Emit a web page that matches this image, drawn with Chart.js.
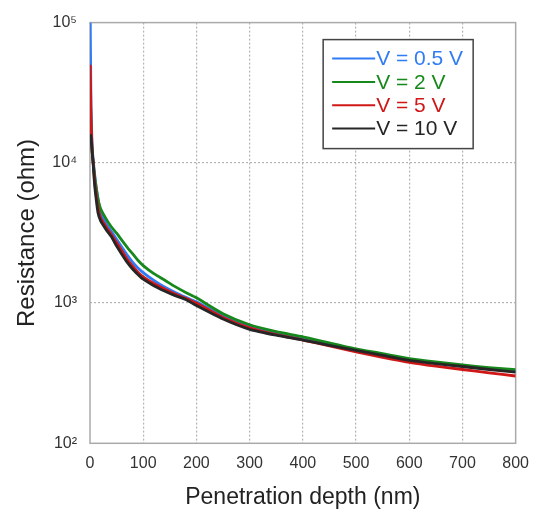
<!DOCTYPE html>
<html>
<head>
<meta charset="utf-8">
<script src="https://cdn.jsdelivr.net/npm/chart.js@4/dist/chart.umd.min.js"></script>
<style>
  html, body { margin: 0; padding: 0; background: #fff; }
  #wrap { width: 540px; height: 515px; }
</style>
</head>
<body>
<div id="wrap"><canvas id="chart"></canvas></div>
<script>
// penetration depth (nm)
const depth = [0.5, 2, 4, 6, 8, 10, 15, 20, 30, 40, 50, 60, 70, 80, 90, 100, 120, 140, 160, 180, 200, 250, 300, 350, 400, 450, 500, 550, 600, 650, 700, 750, 800];

// resistance (ohm) for each voltage
const r05 = [100000, 25000, 13000, 10500, 8800, 7500, 5600, 4500, 3700, 3250, 2850, 2500, 2200, 1960, 1780, 1650, 1450, 1300, 1190, 1100, 1020, 810, 680, 605, 555, 505, 463, 426, 393, 373, 355, 339, 326];
const r2 = [35000, 18000, 12000, 10000, 8500, 7300, 5500, 4700, 4000, 3500, 3150, 2800, 2500, 2250, 2020, 1850, 1620, 1460, 1310, 1190, 1090, 840, 700, 625, 575, 520, 472, 436, 402, 380, 362, 347, 335];
const r5 = [50000, 20000, 12500, 10000, 8000, 6700, 4800, 4050, 3500, 3100, 2700, 2350, 2050, 1830, 1660, 1540, 1380, 1260, 1160, 1080, 1000, 790, 665, 595, 545, 495, 448, 410, 378, 355, 336, 318, 302];
const r10 = [16000, 15000, 12000, 9800, 7500, 6200, 4400, 3850, 3350, 2980, 2550, 2220, 1950, 1750, 1600, 1480, 1330, 1220, 1130, 1060, 960, 770, 650, 590, 545, 500, 460, 423, 390, 370, 353, 336, 322];

const seriesNames = ["V = 0.5 V", "V = 2 V", "V = 5 V", "V = 10 V"];
const seriesColors = ["#2f7cf4", "#17891c", "#d01717", "#262626"];

const xTicks = [0, 100, 200, 300, 400, 500, 600, 700, 800];
const yTicks = [100, 1000, 10000, 100000];
const yTickLabels = ["10\u00b2", "10\u00b3", "10\u2074", "10\u2075"];

const font = "'Liberation Sans', Arial, sans-serif";

function points(vals) {
  return depth.map((d, i) => ({ x: d, y: vals[i] }));
}

function gridColor(ctx, lo, hi) {
  if (!ctx.tick) return "transparent";
  const v = ctx.tick.value;
  return (v === lo || v === hi) ? "transparent" : "#b4b4b4";
}

// frame round the plot area and the boxed legend
const framePlugin = {
  id: "frame",
  beforeDatasetsDraw(chart) {
    const { ctx, chartArea: a } = chart;
    ctx.save();
    ctx.strokeStyle = "#aaaaaa";
    ctx.lineWidth = 1.5;
    ctx.strokeRect(a.left, a.top, a.right - a.left, a.bottom - a.top);
    ctx.restore();
  },
  afterDraw(chart) {
    const { ctx, chartArea: a } = chart;
    const bx = a.right - 192.5, by = a.top + 17, bw = 150, bh = 109;
    ctx.save();
    ctx.fillStyle = "#fff";
    ctx.fillRect(bx, by, bw, bh);
    ctx.strokeStyle = "#444";
    ctx.lineWidth = 1.5;
    ctx.strokeRect(bx, by, bw, bh);
    ctx.font = "21px " + font;
    ctx.textBaseline = "middle";
    seriesNames.forEach((name, i) => {
      const y = by + 19 + i * 23.3;
      ctx.strokeStyle = seriesColors[i];
      ctx.lineWidth = 2;
      ctx.beginPath();
      ctx.moveTo(bx + 9, y);
      ctx.lineTo(bx + 52, y);
      ctx.stroke();
      ctx.fillStyle = seriesColors[i];
      ctx.fillText(name, bx + 53, y + 1);
    });
    ctx.restore();
  }
};

const allSeries = [r05, r2, r5, r10];
const drawOrder = [4, 3, 2, 1];

new Chart(document.getElementById("chart"), {
  type: "line",
  data: {
    datasets: allSeries.map((vals, i) => ({
      label: seriesNames[i],
      data: points(vals),
      borderColor: seriesColors[i],
      backgroundColor: seriesColors[i],
      borderWidth: 2.8,
      pointRadius: 0,
      tension: 0.2,
      order: drawOrder[i]
    }))
  },
  options: {
    responsive: true,
    maintainAspectRatio: false,
    animation: false,
    layout: { padding: { top: 15.5, right: 24.3, left: 0, bottom: 0 } },
    plugins: {
      legend: { display: false },
      tooltip: { enabled: false }
    },
    scales: {
      x: {
        type: "linear",
        min: 0,
        max: 800,
        afterBuildTicks: (s) => { s.ticks = xTicks.map((v) => ({ value: v })); },
        afterFit: (s) => { s.height = 71.7; },
        grid: {
          drawTicks: false,
          color: (c) => gridColor(c, 0, 800),
          lineWidth: 1.2
        },
        border: { display: false, dash: [2, 2] },
        ticks: {
          padding: 11,
          color: "#333",
          font: { family: font, size: 16 },
          maxRotation: 0
        },
        title: {
          display: true,
          text: "Penetration depth (nm)",
          color: "#222",
          font: { family: font, size: 23 },
          padding: { top: 0, bottom: 4 }
        }
      },
      y: {
        type: "logarithmic",
        min: 100,
        max: 100000,
        afterBuildTicks: (s) => { s.ticks = yTicks.map((v) => ({ value: v })); },
        afterFit: (s) => { s.width = 90; },
        grid: {
          drawTicks: false,
          color: (c) => gridColor(c, 100, 100000),
          lineWidth: 1.2
        },
        border: { display: false, dash: [2, 2] },
        ticks: {
          padding: 13,
          color: "#333",
          font: { family: font, size: 16 },
          callback: (v) => {
            const i = yTicks.indexOf(v);
            return i >= 0 ? yTickLabels[i] : "";
          }
        },
        title: {
          display: true,
          text: "Resistance (ohm)",
          color: "#222",
          font: { family: font, size: 24 },
          padding: { top: 13, bottom: 0 }
        }
      }
    }
  },
  plugins: [framePlugin]
});
</script>
</body>
</html>
